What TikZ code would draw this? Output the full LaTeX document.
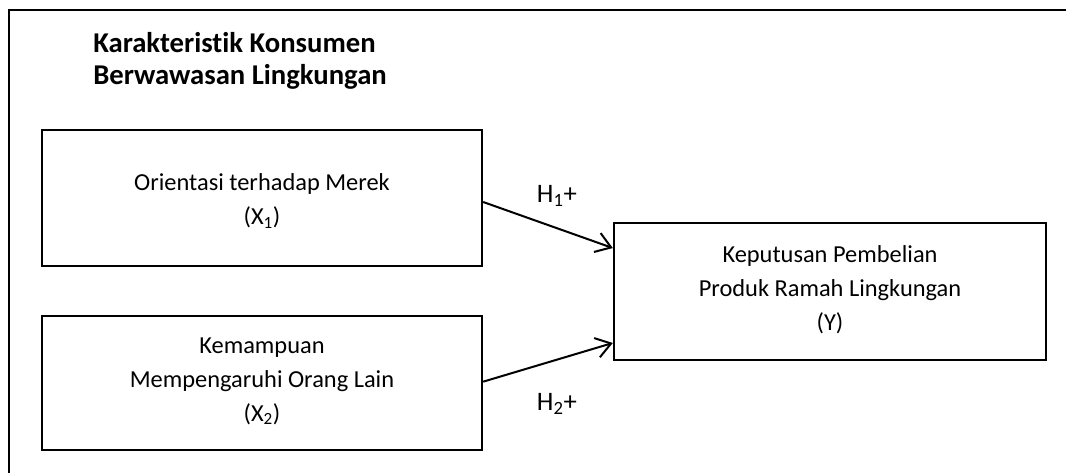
\documentclass[tikz,border=0pt]{standalone}
\usepackage{fontspec}
\setmainfont{Carlito}[Ligatures=NoCommon]
\usetikzlibrary{arrows.meta}
\begin{document}
\begin{tikzpicture}[x=0.75pt,y=-0.75pt,
  box/.style={draw,line width=1.8pt,inner sep=0pt},
  boxtext/.style={inner sep=0pt,align=center,
    font=\fontsize{18.3}{25.5}\selectfont},
  lbl/.style={inner sep=0pt,font=\fontsize{20}{24}\selectfont},
  arr/.style={line width=1.5pt,-{Straight Barb[length=11pt,width=15pt,line width=1.5pt]}}]
\useasboundingbox (0,0) rectangle (1066,472);
\clip (0,0) rectangle (1066,472);
\draw[line width=2pt] (9,480) -- (9,10) -- (1080,10);
\node[anchor=north west,align=left,inner sep=0pt,
  font=\bfseries\fontsize{21.5}{24}\selectfont] (title) at (93,32)
  {Karakteristik Konsumen\\Berwawasan Lingkungan};
\node[box,minimum width=330pt,minimum height=102pt] (x1) at (262,198) {};
\node[boxtext] (x1t) at (262,201) {Orientasi terhadap Merek\\(X\textsubscript{1})};
\node[box,minimum width=330pt,minimum height=100.5pt] (x2) at (262,383) {};
\node[boxtext] (x2t) at (262,381) {Kemampuan\\Mempengaruhi Orang Lain\\(X\textsubscript{2})};
\node[box,minimum width=324pt,minimum height=102.75pt] (y) at (830,291.5) {};
\node[boxtext] (yt) at (830,290) {Keputusan Pembelian\\Produk Ramah Lingkungan\\(Y)};
\draw[arr] ([yshift=-3pt]x1.east) -- ([yshift=32.6pt]y.west);
\draw[arr] ([yshift=1pt]x2.east) -- ([yshift=-38.6pt]y.west);
\node[lbl] (h1) at (557,196) {H\textsubscript{1}+};
\node[lbl] (h2) at (557,404) {H\textsubscript{2}+};
\end{tikzpicture}
\end{document}
